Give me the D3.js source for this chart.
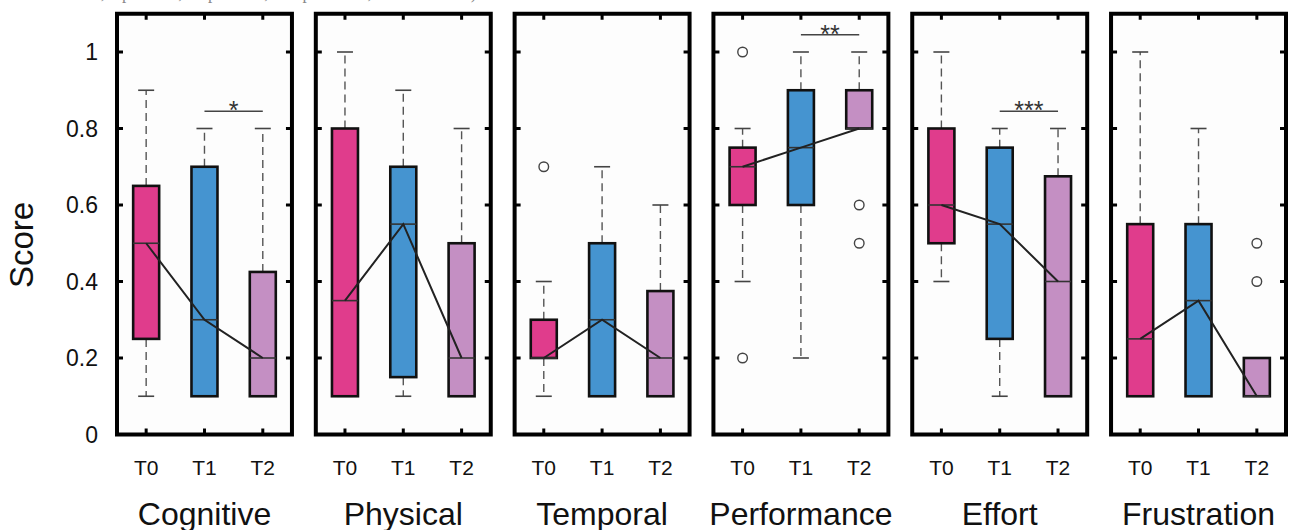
<!DOCTYPE html>
<html>
<head>
<meta charset="utf-8">
<script src="https://cdn.jsdelivr.net/npm/d3@7"></script>
<style>
body { margin: 0; background: #fff; }
text { font-family: "Liberation Sans", Arial, sans-serif; }
</style>
</head>
<body>
<div id="chart"></div>
<script>
var categories = ['Cognitive', 'Physical', 'Temporal', 'Performance', 'Effort', 'Frustration'];
var times = ['T0', 'T1', 'T2'];

// each entry: [lower whisker, Q1, median, Q3, upper whisker]
var boxT0 = [[0.1, 0.25, 0.5, 0.65, 0.9], [0.1, 0.1, 0.35, 0.8, 1.0], [0.1, 0.2, 0.2, 0.3, 0.4],
             [0.4, 0.6, 0.7, 0.75, 0.8], [0.4, 0.5, 0.6, 0.8, 1.0], [0.1, 0.1, 0.25, 0.55, 1.0]];
var boxT1 = [[0.1, 0.1, 0.3, 0.7, 0.8], [0.1, 0.15, 0.55, 0.7, 0.9], [0.1, 0.1, 0.3, 0.5, 0.7],
             [0.2, 0.6, 0.75, 0.9, 1.0], [0.1, 0.25, 0.55, 0.75, 0.8], [0.1, 0.1, 0.35, 0.55, 0.8]];
var boxT2 = [[0.1, 0.1, 0.2, 0.425, 0.8], [0.1, 0.1, 0.2, 0.5, 0.8], [0.1, 0.1, 0.2, 0.375, 0.6],
             [0.8, 0.8, 0.8, 0.9, 1.0], [0.1, 0.1, 0.4, 0.675, 0.8], [0.1, 0.1, 0.1, 0.2, 0.2]];

var outlierCat = ['Temporal', 'Performance', 'Performance', 'Performance', 'Performance', 'Frustration', 'Frustration'];
var outlierTime = ['T0', 'T0', 'T0', 'T2', 'T2', 'T2', 'T2'];
var outlierValue = [0.7, 1.0, 0.2, 0.6, 0.5, 0.5, 0.4];

var sigCat = ['Cognitive', 'Performance', 'Effort'];
var sigLevel = [0.845, 1.045, 0.845];
var sigLabel = ['*', '**', '***'];

var yTicks = [0, 0.2, 0.4, 0.6, 0.8, 1];
var yTickLabels = ['0', '0.2', '0.4', '0.6', '0.8', '1'];

var colors = ['#E03C8C', '#4594D0', '#C48FC3'];

var width = 1290, height = 530;
var boxW = 26, capW = 16;

var svg = d3.select('#chart').append('svg')
    .attr('width', width)
    .attr('height', height);

var y = d3.scaleLinear().domain([0, 1.1]).range([434.5, 13.75]);

var panelX = d3.scaleBand()
    .domain(categories)
    .range([117, 1286])
    .paddingInner(0.12)
    .paddingOuter(0);

// cut-off caption line above the figure
svg.append('text')
    .attr('x', 2).attr('y', -1)
    .style('font-family', '"Liberation Serif", serif')
    .style('font-size', '17px')
    .attr('fill', '#888')
    .text('statistical tests, * p < 0.05, ** p < 0.01, *** p < 0.001, two-sided test)');

var boxesByTime = [boxT0, boxT1, boxT2];

categories.forEach(function (cat, ci) {
    var x0 = panelX(cat), pw = panelX.bandwidth();
    var x = d3.scalePoint().domain(times).range([x0, x0 + pw]).padding(0.5);
    var g = svg.append('g');

    g.append('rect')
        .attr('x', x0).attr('y', y(1.1))
        .attr('width', pw).attr('height', y(0) - y(1.1))
        .attr('fill', '#fdfdfd');

    var stats = times.map(function (t, ti) {
        var b = boxesByTime[ti][ci];
        return { t: t, i: ti, lo: b[0], q1: b[1], med: b[2], q3: b[3], hi: b[4] };
    });

    // whiskers
    stats.forEach(function (s) {
        var cx = x(s.t);
        [[s.q3, s.hi], [s.q1, s.lo]].forEach(function (p) {
            g.append('line')
                .attr('x1', cx).attr('x2', cx)
                .attr('y1', y(p[0])).attr('y2', y(p[1]))
                .attr('stroke', '#555').attr('stroke-width', 1.4)
                .attr('stroke-dasharray', '8,5');
            g.append('line')
                .attr('x1', cx - capW / 2).attr('x2', cx + capW / 2)
                .attr('y1', y(p[1])).attr('y2', y(p[1]))
                .attr('stroke', '#444').attr('stroke-width', 1.6);
        });
    });

    // boxes
    g.selectAll('rect.box')
        .data(stats)
        .enter()
        .append('rect')
        .attr('class', 'box')
        .attr('x', function (d) { return x(d.t) - boxW / 2; })
        .attr('y', function (d) { return y(d.q3); })
        .attr('width', boxW)
        .attr('height', function (d) { return y(d.q1) - y(d.q3); })
        .attr('fill', function (d) { return colors[d.i]; })
        .attr('stroke', '#111')
        .attr('stroke-width', 2.6);

    // medians
    g.selectAll('line.med')
        .data(stats)
        .enter()
        .append('line')
        .attr('class', 'med')
        .attr('x1', function (d) { return x(d.t) - boxW / 2; })
        .attr('x2', function (d) { return x(d.t) + boxW / 2; })
        .attr('y1', function (d) { return y(d.med); })
        .attr('y2', function (d) { return y(d.med); })
        .attr('stroke', '#333')
        .attr('stroke-width', 1.6);

    // line through medians
    var line = d3.line()
        .x(function (d) { return x(d.t); })
        .y(function (d) { return y(d.med); });
    g.append('path')
        .datum(stats)
        .attr('d', line)
        .attr('fill', 'none')
        .attr('stroke', '#222')
        .attr('stroke-width', 2);

    // outliers
    outlierCat.forEach(function (c, k) {
        if (c !== cat) return;
        g.append('circle')
            .attr('cx', x(outlierTime[k]))
            .attr('cy', y(outlierValue[k]))
            .attr('r', 4.8)
            .attr('fill', '#fff')
            .attr('stroke', '#444')
            .attr('stroke-width', 1.4);
    });

    // significance bar
    sigCat.forEach(function (c, k) {
        if (c !== cat) return;
        g.append('line')
            .attr('x1', x('T1')).attr('x2', x('T2'))
            .attr('y1', y(sigLevel[k])).attr('y2', y(sigLevel[k]))
            .attr('stroke', '#444').attr('stroke-width', 1.6);
        g.append('text')
            .attr('x', (x('T1') + x('T2')) / 2)
            .attr('y', y(sigLevel[k]) + 8)
            .attr('text-anchor', 'middle')
            .style('font-size', '25px')
            .attr('fill', '#333')
            .text(sigLabel[k]);
    });

    // frame
    g.append('rect')
        .attr('x', x0).attr('y', y(1.1))
        .attr('width', pw).attr('height', y(0) - y(1.1))
        .attr('fill', 'none')
        .attr('stroke', '#000')
        .attr('stroke-width', 4);

    // inward ticks
    times.forEach(function (t) {
        g.append('line').attr('x1', x(t)).attr('x2', x(t))
            .attr('y1', y(0)).attr('y2', y(0) - 6)
            .attr('stroke', '#000').attr('stroke-width', 3);
        g.append('line').attr('x1', x(t)).attr('x2', x(t))
            .attr('y1', y(1.1)).attr('y2', y(1.1) + 6)
            .attr('stroke', '#000').attr('stroke-width', 3);
    });
    yTicks.forEach(function (v) {
        g.append('line').attr('x1', x0).attr('x2', x0 + 6)
            .attr('y1', y(v)).attr('y2', y(v))
            .attr('stroke', '#000').attr('stroke-width', 3);
        g.append('line').attr('x1', x0 + pw).attr('x2', x0 + pw - 6)
            .attr('y1', y(v)).attr('y2', y(v))
            .attr('stroke', '#000').attr('stroke-width', 3);
    });

    // time labels
    times.forEach(function (t) {
        g.append('text')
            .attr('x', x(t)).attr('y', 475)
            .attr('text-anchor', 'middle')
            .style('font-size', '21px')
            .attr('fill', '#111')
            .text(t);
    });

    // category label
    g.append('text')
        .attr('x', x0 + pw / 2).attr('y', 525)
        .attr('text-anchor', 'middle')
        .style('font-size', '32px')
        .attr('fill', '#111')
        .text(cat);
});

// y tick labels
svg.selectAll('text.ytick')
    .data(yTicks)
    .enter()
    .append('text')
    .attr('class', 'ytick')
    .attr('x', 98)
    .attr('y', function (d) { return y(d) + 8; })
    .attr('text-anchor', 'end')
    .style('font-size', '23px')
    .attr('fill', '#111')
    .text(function (d, i) { return yTickLabels[i]; });

svg.append('text')
    .attr('transform', 'translate(33,245) rotate(-90)')
    .attr('text-anchor', 'middle')
    .style('font-size', '33px')
    .attr('fill', '#111')
    .text('Score');
</script>
</body>
</html>
